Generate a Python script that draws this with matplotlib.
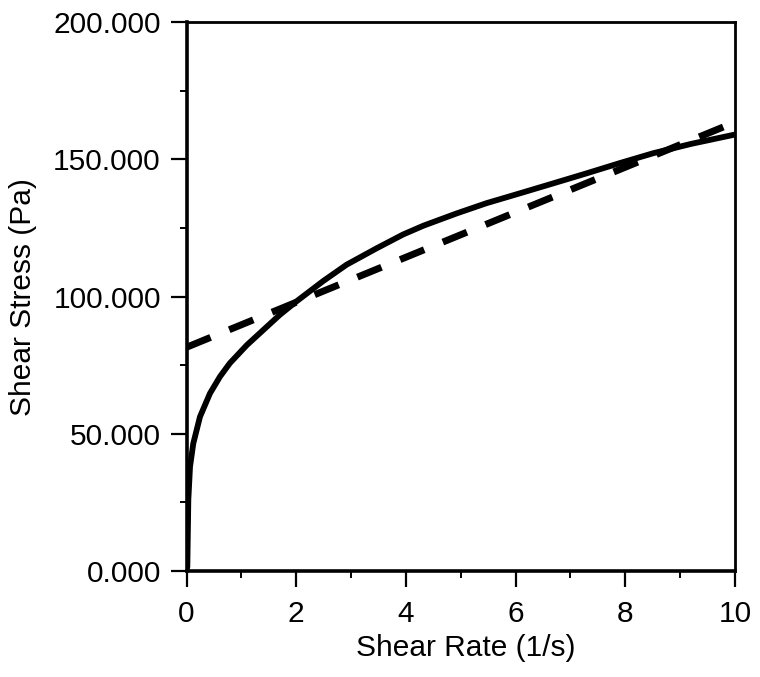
import matplotlib
matplotlib.use("Agg")
import matplotlib.pyplot as plt
from matplotlib.ticker import MultipleLocator

rate_meas = [0.0, 0.015, 0.033, 0.064, 0.124, 0.246, 0.428, 0.61, 0.79, 1.10, 1.40,
             1.70, 2.01, 2.49, 2.92, 3.47, 3.95, 4.32, 4.93, 5.47, 6.08, 6.70,
             7.30, 7.90, 8.51, 9.20, 10.0]
stress_meas = [0.0, 1.6, 25.9, 38.0, 46.5, 56.2, 64.7, 70.8, 75.7, 82.3, 87.8,
               93.3, 98.3, 105.6, 111.6, 117.6, 122.6, 125.8, 130.3, 134.0, 137.6, 141.3,
               144.9, 148.6, 152.2, 155.6, 159.0]

# Bingham (linear) fit (dashed)
rate_fit = [0.0, 10.0]
stress_fit = [81.5, 163.5]

xticks = [0, 2, 4, 6, 8, 10]
yticks = [0, 50, 100, 150, 200]
ytick_labels = ["0.000", "50.000", "100.000", "150.000", "200.000"]

plt.rcParams['font.family'] = ['Liberation Sans', 'DejaVu Sans']

fig = plt.figure(figsize=(7.6, 6.77), dpi=100)
ax = fig.add_axes([186.5 / 760, 1 - 571 / 677, (735 - 186.5) / 760, (571 - 22) / 677])

ax.plot(rate_meas, stress_meas, color='black', lw=4.2, solid_capstyle='butt',
        solid_joinstyle='round')
ax.plot(rate_fit, stress_fit, color='black', lw=5.0, dashes=(3.75, 2.9),
        dash_capstyle='butt')

ax.set_xlim(0, 10)
ax.set_ylim(0, 200)
ax.set_xticks(xticks)
ax.set_xticklabels([str(v) for v in xticks])
ax.set_yticks(yticks)
ax.set_yticklabels(ytick_labels)
ax.xaxis.set_minor_locator(MultipleLocator(1))
ax.yaxis.set_minor_locator(MultipleLocator(25))

ax.tick_params(axis='both', which='major', direction='out', length=11.5, width=1.6,
               labelsize=21.5, top=False, right=False)
ax.tick_params(axis='both', which='minor', direction='out', length=5, width=1.4,
               top=False, right=False)
ax.tick_params(axis='x', which='major', pad=9.4)
ax.tick_params(axis='y', which='major', pad=7)

for s in ['left', 'bottom']:
    ax.spines[s].set_linewidth(2.6)
for s in ['top', 'right']:
    ax.spines[s].set_linewidth(2.0)

ax.set_xlabel("Shear Rate (1/s)", fontsize=21.5, va='center')
ax.xaxis.set_label_coords(0.51, (571 - 648) / 549)
ax.set_ylabel("Shear Stress (Pa)", fontsize=21.5, va='center', ha='center')
ax.yaxis.set_label_coords((23 - 186.5) / 548.5, (571 - 297) / 549)

fig.savefig("out.png", dpi=100)
